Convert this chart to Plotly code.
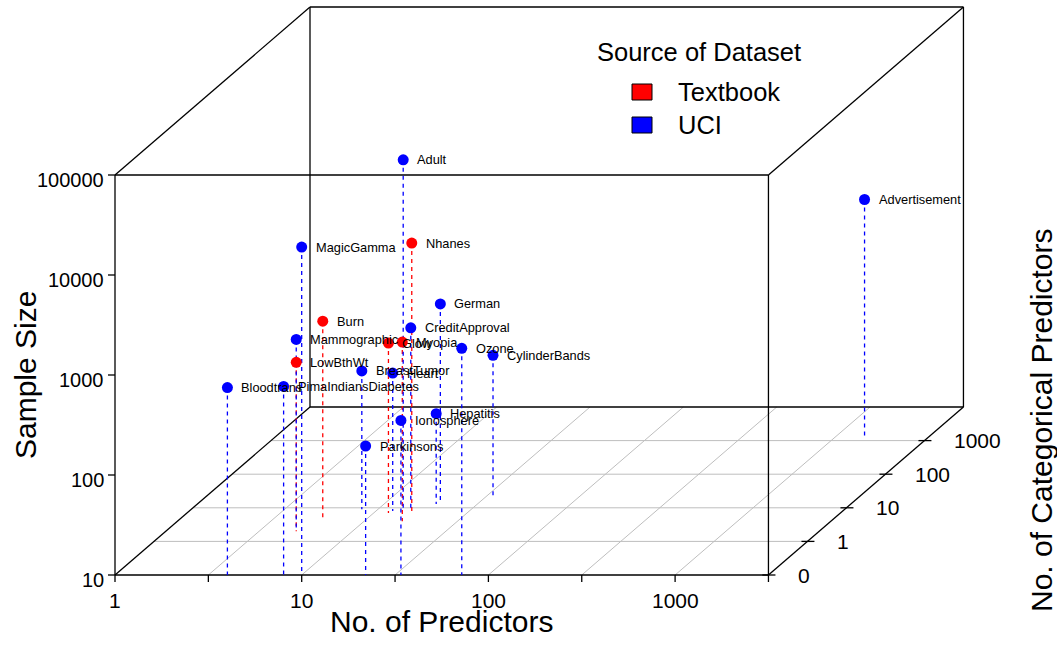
import numpy as np
import plotly.graph_objects as go

# ---------------- data ----------------
datasets = ["Bloodtrans", "PimaIndiansDiabetes", "MagicGamma", "Parkinsons", "Ionosphere",
            "Ozone", "Hepatitis", "German", "CreditApproval", "Adult", "CylinderBands",
            "Advertisement", "BreastTumor", "Heart", "Mammographic",
            "Nhanes", "Glow", "Myopia", "Burn", "LowBthWt"]
n_predictors = [4, 8, 10, 22, 34, 72, 19, 20, 15, 14, 35, 1430, 8.2, 12.3, 5,
                16, 12, 16, 6, 5]
n_categorical = [0, 0, 0, 0, 0, 0, 13, 13, 9, 8, 20, 1300, 9, 8, 2,
                 7, 7, 4, 4, 2]
sample_size = [748, 768, 19020, 195, 351, 1847, 80, 1000, 653, 32561, 265, 2359, 242, 240, 830,
               5000, 500, 618, 1000, 490]
source = ["UCI"] * 15 + ["Textbook"] * 5

x_ticks = [1, 10, 100, 1000]
y_ticks = [0, 1, 10, 100, 1000]
z_ticks = [10, 100, 1000, 10000, 100000]
source_colors = {"Textbook": "#FF0000", "UCI": "#0000FF"}

# ---------------- oblique projection (scatterplot3d style) ----------------
PX_X = 186.7      # pixels per decade of x
PX_Z = 100.0      # pixels per decade of z
DX, DY = 39.0, 33.6   # pixel shift per depth unit
KX, KZ = DX / PX_X, DY / PX_Z
X_MAX, D_MAX, Z_MIN, Z_MAX = 3.5, 5.0, 1.0, 5.0
W, H, X0, Y0 = 1057, 664, 115, 575

def depth(c):
    return 0.0 if c == 0 else np.log10(c) + 1

def proj(lx, d, lz):
    return lx + KX * d, lz + KZ * d

FONT = "Liberation Sans, Arial, Helvetica, sans-serif"
fig = go.Figure()

def seg_trace(segs, color, width, dash=None):
    xs, ys = [], []
    for (a, b) in segs:
        xs += [a[0], b[0], None]
        ys += [a[1], b[1], None]
    fig.add_trace(go.Scatter(x=xs, y=ys, mode="lines", hoverinfo="skip", showlegend=False,
                             line=dict(color=color, width=width, dash=dash)))

# grid on the floor
grid = []
for d in [1, 2, 3, 4]:
    grid.append((proj(0, d, Z_MIN), proj(X_MAX, d, Z_MIN)))
for lx in np.arange(0.5, X_MAX, 0.5):
    grid.append((proj(lx, 0, Z_MIN), proj(lx, D_MAX, Z_MIN)))
seg_trace(grid, "#BEBEBE", 1)

# box
box = []
for (xa, da, za), (xb, db, zb) in [
        ((0, 0, Z_MIN), (X_MAX, 0, Z_MIN)), ((0, 0, Z_MAX), (X_MAX, 0, Z_MAX)),
        ((0, 0, Z_MIN), (0, 0, Z_MAX)), ((X_MAX, 0, Z_MIN), (X_MAX, 0, Z_MAX)),
        ((0, D_MAX, Z_MIN), (X_MAX, D_MAX, Z_MIN)), ((0, D_MAX, Z_MAX), (X_MAX, D_MAX, Z_MAX)),
        ((0, D_MAX, Z_MIN), (0, D_MAX, Z_MAX)), ((X_MAX, D_MAX, Z_MIN), (X_MAX, D_MAX, Z_MAX)),
        ((0, 0, Z_MIN), (0, D_MAX, Z_MIN)), ((0, 0, Z_MAX), (0, D_MAX, Z_MAX)),
        ((X_MAX, 0, Z_MIN), (X_MAX, D_MAX, Z_MIN)), ((X_MAX, 0, Z_MAX), (X_MAX, D_MAX, Z_MAX))]:
    box.append((proj(xa, da, za), proj(xb, db, zb)))

# ticks
tl = 7.0
for lx in np.arange(0, X_MAX + 0.01, 0.5):
    box.append((proj(lx, 0, Z_MIN), (lx, Z_MIN - tl / PX_Z)))
for lz in np.log10(z_ticks):
    box.append(((0, lz), (-tl / PX_X, lz)))
for c in y_ticks:
    u, v = proj(X_MAX, depth(c), Z_MIN)
    box.append(((u - 6 / PX_X, v), (u + 7 / PX_X, v)))
seg_trace(box, "black", 1.3)

lx_pts = np.log10(n_predictors)
lz_pts = np.log10(sample_size)
d_pts = np.array([depth(c) for c in n_categorical])

# drop lines
for src in ["Textbook", "UCI"]:
    segs = []
    for i in range(len(datasets)):
        if source[i] == src:
            segs.append((proj(lx_pts[i], d_pts[i], lz_pts[i]), proj(lx_pts[i], d_pts[i], Z_MIN)))
    seg_trace(segs, source_colors[src], 1.3, dash="4px,4px")

# points
for src in ["Textbook", "UCI"]:
    idx = [i for i in range(len(datasets)) if source[i] == src]
    u, v = proj(lx_pts[idx], d_pts[idx], lz_pts[idx])
    fig.add_trace(go.Scatter(x=u, y=v, mode="markers", showlegend=False,
                             text=[datasets[i] for i in idx],
                             marker=dict(color=source_colors[src], size=11)))

ann = []
# point labels
for i in range(len(datasets)):
    u, v = proj(lx_pts[i], d_pts[i], lz_pts[i])
    ann.append(dict(x=u, y=v, text=datasets[i], showarrow=False, xanchor="left", yanchor="middle",
                    xshift=12, font=dict(size=12.8, color="black", family=FONT)))

# axis tick labels
for t in x_ticks:
    ann.append(dict(x=np.log10(t), y=Z_MIN - 25 / PX_Z, text=str(t), showarrow=False,
                    xanchor="center", yanchor="middle", font=dict(size=21, family=FONT, color="black")))
for t in z_ticks:
    ann.append(dict(x=-9 / PX_X, y=np.log10(t), text=str(t), showarrow=False,
                    xanchor="right", yanchor="middle", yshift=-5,
                    font=dict(size=20, family=FONT, color="black")))
for c in y_ticks:
    u, v = proj(X_MAX, depth(c), Z_MIN)
    ann.append(dict(x=u + 28 / PX_X, y=v, text=str(c), showarrow=False,
                    xanchor="left", yanchor="middle", font=dict(size=21, family=FONT, color="black")))

# axis titles
def px2u(px): return (px - X0) / PX_X
def py2v(py): return Z_MIN + (Y0 - py) / PX_Z

ann.append(dict(x=X_MAX / 2, y=py2v(621), text="No. of Predictors", showarrow=False,
                xanchor="center", yanchor="middle", font=dict(size=30, family=FONT, color="black")))
ann.append(dict(x=px2u(25), y=(Z_MIN + Z_MAX) / 2, text="Sample Size", showarrow=False, textangle=-90,
                xanchor="center", yanchor="middle", font=dict(size=30, family=FONT, color="black")))
ann.append(dict(x=px2u(1041), y=py2v(420), text="No. of Categorical Predictors", showarrow=False,
                textangle=-90, xanchor="center", yanchor="middle",
                font=dict(size=30, family=FONT, color="black")))

# legend (drawn manually to match the base-R legend)
ann.append(dict(x=px2u(595), y=py2v(52), text="Source of Dataset", showarrow=False,
                xanchor="left", yanchor="middle", font=dict(size=25.5, family=FONT, color="black")))
shapes = []
for k, src in enumerate(["Textbook", "UCI"]):
    cy = 92 + 33 * k
    shapes.append(dict(type="rect", x0=px2u(632), x1=px2u(652), y0=py2v(cy - 8), y1=py2v(cy + 8),
                       fillcolor=source_colors[src], line=dict(color="black", width=1)))
    ann.append(dict(x=px2u(676), y=py2v(cy), text=src, showarrow=False, xanchor="left",
                    yanchor="middle", font=dict(size=25.5, family=FONT, color="black")))

fig.update_layout(
    width=W, height=H, margin=dict(l=0, r=0, t=0, b=0),
    paper_bgcolor="white", plot_bgcolor="white",
    xaxis=dict(range=[px2u(0), px2u(W)], visible=False, fixedrange=True),
    yaxis=dict(range=[py2v(H), py2v(0)], visible=False, fixedrange=True),
    annotations=ann, shapes=shapes, showlegend=False,
)

fig.write_html("out.html", config={"displayModeBar": False},
               post_script="document.body.style.margin='0';")
